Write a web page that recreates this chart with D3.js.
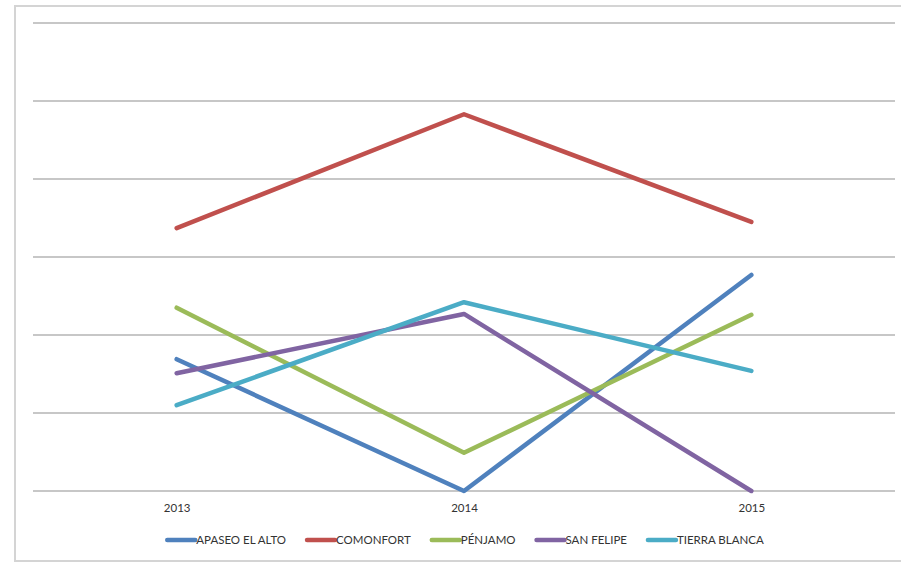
<!DOCTYPE html>
<html>
<head>
<meta charset="utf-8">
<script src="https://cdn.jsdelivr.net/npm/d3@7"></script>
<style>
  html, body { margin: 0; padding: 0; background: #fff; }
  svg { display: block; }
</style>
</head>
<body>
<svg id="chart" width="901" height="563"></svg>
<script>
const years = ["2013", "2014", "2015"];
const seriesNames = ["APASEO EL ALTO", "COMONFORT", "PÉNJAMO", "SAN FELIPE", "TIERRA BLANCA"];
const apaseo = [1.69, 0, 2.77];
const comonfort = [3.37, 4.83, 3.45];
const penjamo = [2.35, 0.49, 2.26];
const sanFelipe = [1.51, 2.27, 0];
const tierraBlanca = [1.10, 2.42, 1.54];
const yTicks = [0, 1, 2, 3, 4, 5, 6];
const colors = ["#4F81BD", "#C0504D", "#9BBB59", "#8064A2", "#4BACC6"];

const seriesValues = [apaseo, comonfort, penjamo, sanFelipe, tierraBlanca];
const series = seriesNames.map((n, i) => ({ name: n, values: seriesValues[i], color: colors[i] }));

const svg = d3.select("#chart");
const plot = { left: 33, right: 895, top: 23, bottom: 491 };
const font = "Lato, 'Open Sans', sans-serif";

// outer frame
svg.append("rect")
  .attr("x", 15).attr("y", 6).attr("width", 900).attr("height", 555)
  .attr("fill", "none").attr("stroke", "#d4d4d4").attr("stroke-width", 2);

const x = d3.scalePoint().domain(years).range([plot.left, plot.right]).padding(0.5);
const y = d3.scaleLinear().domain([0, 6]).range([plot.bottom, plot.top]);

// gridlines
svg.append("g").selectAll("line").data(yTicks).join("line")
  .attr("x1", plot.left).attr("x2", plot.right)
  .attr("y1", d => y(d)).attr("y2", d => y(d))
  .attr("stroke", "#b5b5b5").attr("stroke-width", 1.5);

// x axis labels
const xAxis = d3.axisBottom(x).tickSize(0).tickPadding(13);
const gx = svg.append("g").attr("transform", `translate(0,${plot.bottom})`).call(xAxis);
gx.select(".domain").remove();
gx.selectAll("text").attr("font-family", font).attr("font-size", 11.5).attr("fill", "#333");

// lines
const line = d3.line().x((d, i) => x(years[i])).y(d => y(d));
svg.append("g").selectAll("path").data(series).join("path")
  .attr("d", d => line(d.values))
  .attr("fill", "none")
  .attr("stroke", d => d.color)
  .attr("stroke-width", 4.5)
  .attr("stroke-linecap", "round")
  .attr("stroke-linejoin", "round");

// legend
const legend = svg.append("g");
const swW = 28, gapText = 1, gapItem = 21, legY = 540;
let cx = 0;
const items = [];
series.forEach(s => {
  const g = legend.append("g");
  g.append("line").attr("x1", 0).attr("x2", swW).attr("y1", 0).attr("y2", 0)
    .attr("stroke", s.color).attr("stroke-width", 4.5).attr("stroke-linecap", "round");
  const t = g.append("text").attr("x", swW + gapText).attr("y", 4)
    .attr("font-family", font).attr("font-size", 11.5).attr("fill", "#333")
    .text(s.name);
  const w = swW + gapText + t.node().getComputedTextLength();
  items.push({ g, off: cx });
  cx += w + gapItem;
});
const total = cx - gapItem;
const startX = 465.5 - total / 2;
items.forEach(it => it.g.attr("transform", `translate(${startX + it.off},${legY})`));
</script>
</body>
</html>
